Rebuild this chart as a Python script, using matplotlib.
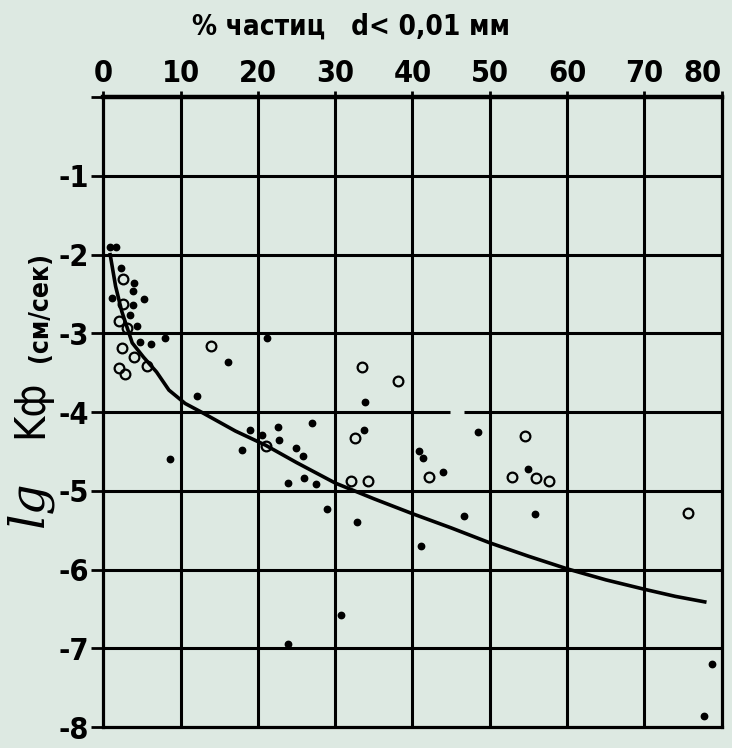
import numpy as np
import matplotlib.pyplot as plt

# кривая lg Kф от % частиц d < 0,01 мм
curve_x = [0.9, 1.6, 2.4, 3.75, 5.2, 6.9, 8.5, 10.6, 12.7, 17.1, 21, 25, 30, 35,
           40, 45, 50, 55, 60, 65, 70, 74, 77.8]
curve_y = [-2.0, -2.4, -2.72, -3.12, -3.3, -3.49, -3.72, -3.89, -4.0, -4.24, -4.42,
           -4.64, -4.9, -5.1, -5.29, -5.47, -5.66, -5.83, -5.99, -6.13, -6.25, -6.34, -6.41]

# точки (зачернённые)
filled_x = [0.9, 1.7, 2.3, 4.0, 3.8, 5.3, 1.1, 3.9, 3.5, 4.4, 8.0, 4.7, 6.2,
            21.2, 16.1, 12.1, 8.7, 19.0, 20.5, 18.0, 22.6, 22.8, 27.0, 24.9, 25.8,
            26.0, 23.9, 27.5, 29.0, 33.9, 33.7, 40.9, 41.3, 43.9, 48.5, 55.0,
            32.8, 46.6, 55.9, 41.1, 30.8, 23.9, 78.8, 77.7]
filled_y = [-1.9, -1.9, -2.17, -2.36, -2.46, -2.56, -2.55, -2.64, -2.77, -2.91, -3.06, -3.11, -3.14,
            -3.06, -3.36, -3.8, -4.59, -4.23, -4.29, -4.48, -4.19, -4.36, -4.14, -4.45, -4.56,
            -4.84, -4.9, -4.91, -5.23, -3.87, -4.23, -4.49, -4.58, -4.76, -4.25, -4.72,
            -5.4, -5.32, -5.3, -5.7, -6.58, -6.94, -7.2, -7.86]

# точки (кружки)
open_x = [2.55, 2.55, 2.0, 3.06, 2.4, 4.0, 5.7, 2.1, 2.8, 14.0, 21.0, 33.5, 38.1,
          32.6, 42.1, 32.1, 34.2, 54.5, 52.9, 56.0, 57.6, 75.6]
open_y = [-2.31, -2.62, -2.84, -2.93, -3.18, -3.30, -3.42, -3.44, -3.52, -3.16, -4.43,
          -3.43, -3.6, -4.33, -4.82, -4.88, -4.87, -4.3, -4.82, -4.84, -4.87, -5.28]

x_ticks = [0, 10, 20, 30, 40, 50, 60, 70, 80]
y_ticks = [0, -1, -2, -3, -4, -5, -6, -7, -8]
y_labels = ['', '-1', '-2', '-3', '-4', '-5', '-6', '-7', '-8']

bg = '#dde9e2'
fnt = ['DejaVu Sans', 'Liberation Sans']

fig = plt.figure(figsize=(7.32, 7.48), dpi=100, facecolor=bg)
ax = fig.add_axes([0.141, 0.028, 0.845, 0.842], facecolor=bg)
ax.set_xlim(0, 80)
ax.set_ylim(-8, 0)

# сетка
for xv in x_ticks[1:-1]:
    ax.axvline(xv, color='black', lw=2.2, zorder=1)
for yv in y_ticks[1:-1]:
    if yv == -4:
        ax.hlines(yv, 0, 44.9, color='black', lw=2.2, zorder=1)
        ax.hlines(yv, 46.7, 80, color='black', lw=2.2, zorder=1)
    else:
        ax.axhline(yv, color='black', lw=2.2, zorder=1)

for s in ax.spines.values():
    s.set_linewidth(2.3)
ax.spines['top'].set_linewidth(3.2)

ax.plot(curve_x, curve_y, color='black', lw=2.6, zorder=3)
ax.plot(filled_x, filled_y, 'o', color='black', ms=4.6, zorder=4)
ax.plot(open_x, open_y, 'o', mfc='none', mec='black', mew=1.6, ms=7, zorder=4)

ax.xaxis.tick_top()
ax.set_xticks(x_ticks)
ax.set_xticklabels([str(v) for v in x_ticks], family=fnt, fontsize=22,
                   fontweight='bold', fontstretch='condensed')
ax.get_xticklabels()[-1].set_ha('right')
ax.set_yticks(y_ticks)
ax.set_yticklabels(y_labels, family=fnt, fontsize=22, fontweight='bold',
                   fontstretch='condensed')
ax.tick_params(axis='x', length=4, width=2, pad=3)
ax.tick_params(axis='y', length=9, width=2, pad=1)

fig.text(0.48, 0.965, '% частиц   d< 0,01 мм', ha='center', va='center',
         family=fnt, fontsize=20, fontweight='bold', fontstretch='condensed')

fig.text(0.040, 0.327, 'lg', rotation=90, ha='center', va='center',
         family='DejaVu Serif', style='italic', fontsize=35)
fig.text(0.042, 0.453, 'Kф', rotation=90, ha='center', va='center',
         family=fnt, fontsize=31, fontstretch='condensed')
fig.text(0.055, 0.590, '(см/сек)', rotation=90, ha='center', va='center',
         family=fnt, fontsize=19, fontweight='bold', fontstretch='condensed')

fig.savefig('out.png', dpi=100, facecolor=bg)
